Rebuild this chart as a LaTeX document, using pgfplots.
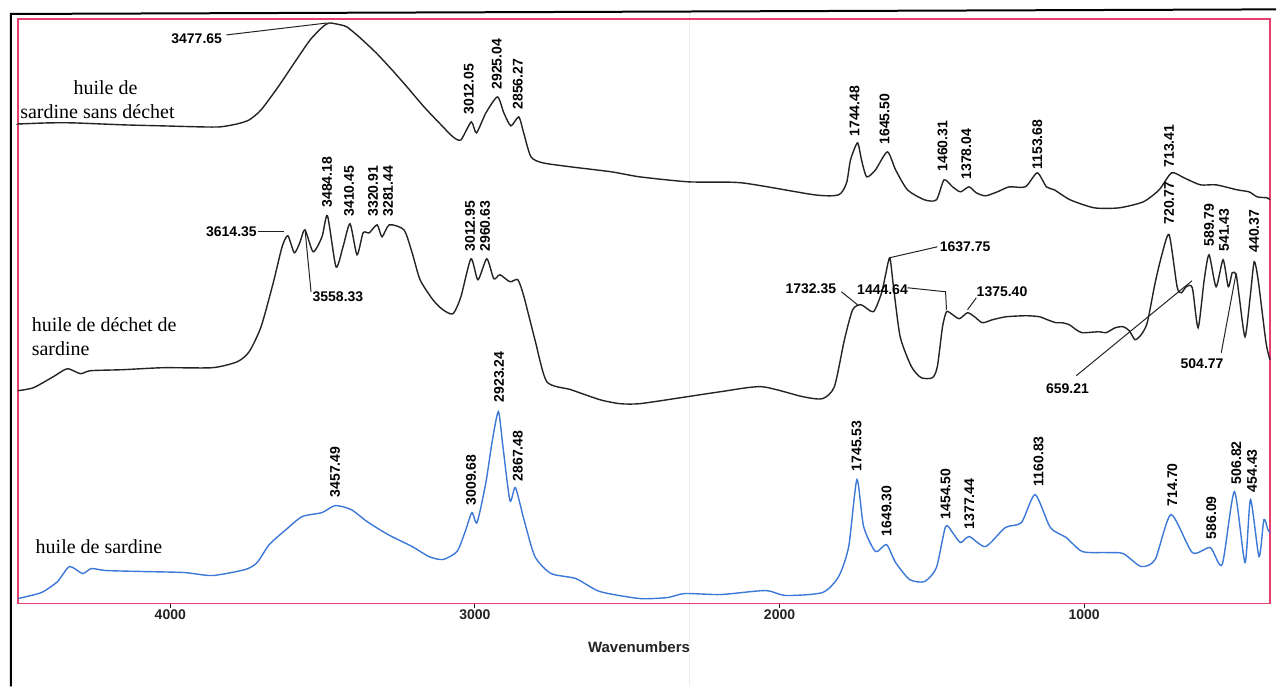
\documentclass[border=0pt]{standalone}
\usepackage{fontspec}
\setmainfont{Liberation Serif}
\setsansfont{Liberation Sans}
\usepackage{pgfplots}
\pgfplotsset{compat=1.18}
\definecolor{frame}{RGB}{232,62,110}
\definecolor{spec}{RGB}{60,120,215}
\definecolor{ink}{RGB}{35,35,35}
\newcommand{\lbl}{\sffamily\bfseries\fontsize{7}{8}\selectfont}
\newcommand{\nm}{\fontsize{10}{12}\selectfont}
\begin{document}
\begin{tikzpicture}
\draw[black!7, line width=0.8pt] (336pt,-41.5pt) -- (336pt,296pt);
\begin{axis}[
  scale only axis, width=626.5pt, height=292.5pt,
  x dir=reverse, xmin=390, xmax=4500, ymin=1, ymax=586,
  axis line style={draw=frame, line width=0.7pt},
  ytick=\empty,
  xtick={4000,3000,2000,1000}, xticklabels={4000,3000,2000,1000},
  xtick pos=left, tick align=outside, major tick length=2pt,
  tick style={draw=ink, line width=0.5pt},
  xticklabel style={font=\lbl, text=ink, inner sep=1pt},
  xlabel={Wavenumbers},
  xlabel style={font=\sffamily\bfseries\fontsize{7.5}{9}\selectfont, text=ink, at={(axis description cs:0.496,0)}, anchor=center, yshift=-21.75pt},
  clip=false,
  every node/.append style={text=ink},
]
% huile de sardine sans dechet
\addplot[ink, line width=0.7pt, smooth, tension=0.4] coordinates {
(4500,481)(4492,481)(4400,482)(4318,482)(4150,480)(4023,479)(3900,478)(3836,478)(3780,481)(3741,485)(3702,495)(3646,518)(3593,542)(3541,565)(3500,578)(3478,582)(3440,580)(3420,578)(3380,568)(3324,552)(3272,535)(3220,517)(3167,498)(3111,480)(3072,468)(3046,465)(3012,483)(2995,472)(2964,492)(2926,508)(2905,492)(2882,479)(2856,488)(2840,472)(2816,448)(2777,442)(2685,438)(2551,433)(2459,428)(2298,423)(2124,422)(1885,410)(1806,410)(1780,422)(1767,445)(1744,462)(1731,445)(1714,428)(1685,435)(1646,453)(1619,435)(1580,415)(1524,405)(1485,405)(1460,425)(1432,418)(1406,413)(1378,418)(1354,412)(1324,409)(1285,413)(1246,418)(1193,418)(1154,432)(1124,418)(1098,415)(1046,405)(967,397)(885,397)(806,403)(754,415)(713,432)(672,427)(619,420)(567,420)(498,415)(459,413)(432,408)(400,407)(390,405)
};
% huile de dechet de sardine
\addplot[ink, line width=0.7pt, smooth, tension=0.4] coordinates {
(4500,214)(4449,217)(4384,228)(4338,236)(4295,231)(4262,234)(4157,235)(4023,237)(3862,237)(3780,243)(3741,253)(3702,278)(3662,322)(3633,358)(3614,369)(3593,352)(3575,362)(3558,375)(3531,353)(3502,368)(3484,389)(3456,338)(3433,358)(3410,381)(3387,350)(3367,372)(3347,372)(3321,380)(3305,368)(3281,380)(3233,375)(3206,352)(3180,325)(3138,305)(3105,295)(3072,291)(3046,308)(3013,346)(2990,325)(2961,346)(2938,326)(2918,330)(2885,323)(2859,325)(2839,308)(2803,265)(2764,223)(2685,215)(2590,205)(2524,201)(2459,201)(2324,207)(2193,213)(2059,218)(1924,208)(1859,206)(1820,218)(1787,265)(1760,295)(1732,300)(1692,293)(1665,312)(1652,330)(1638,347)(1626,318)(1604,268)(1567,238)(1535,227)(1498,227)(1482,238)(1465,278)(1452,293)(1436,291)(1410,286)(1383,292)(1360,288)(1334,282)(1301,285)(1256,288)(1190,289)(1147,288)(1121,285)(1092,282)(1072,282)(1049,280)(1026,275)(1006,272)(951,273)(928,272)(898,277)(872,278)(852,274)(833,265)(813,270)(793,282)(767,322)(745,350)(721,370)(695,318)(681,312)(665,318)(645,317)(626,277)(606,325)(590,350)(567,318)(544,345)(527,318)(514,332)(501,330)(491,308)(472,268)(455,308)(442,343)(429,325)(403,262)(390,245)
};
% huile de sardine
\addplot[spec, line width=0.7pt, smooth, tension=0.4] coordinates {
(4500,6)(4423,12)(4370,23)(4331,38)(4288,31)(4259,36)(4210,34)(4088,33)(3954,32)(3862,29)(3754,35)(3715,42)(3675,60)(3620,75)(3567,88)(3502,92)(3459,99)(3406,95)(3354,83)(3285,70)(3206,58)(3151,48)(3105,45)(3059,53)(3033,72)(3010,92)(2993,82)(2964,122)(2944,162)(2923,193)(2908,158)(2885,104)(2867,117)(2839,85)(2803,48)(2750,31)(2669,26)(2590,13)(2459,6)(2367,7)(2311,11)(2193,10)(2046,14)(1980,9)(1859,12)(1806,28)(1773,58)(1746,125)(1724,78)(1685,53)(1649,60)(1619,42)(1573,25)(1524,23)(1485,37)(1455,78)(1432,72)(1406,62)(1377,68)(1324,58)(1259,77)(1206,82)(1161,110)(1111,77)(1059,67)(1006,53)(928,52)(872,51)(813,38)(767,45)(715,90)(645,52)(586,57)(547,40)(507,113)(472,42)(454,105)(426,48)(410,85)(397,75)(390,72)
};
% labels: top curve
\node[font=\lbl, anchor=east, inner sep=0pt] at (axis cs:3829,566) {3477.65};
\draw[ink, line width=0.5pt] (axis cs:3816,570) -- (axis cs:3485,582);
\node[font=\lbl, rotate=90, anchor=west, inner sep=0pt] at (axis cs:3020,490) {3012.05};
\node[font=\lbl, rotate=90, anchor=west, inner sep=0pt] at (axis cs:2928,515) {2925.04};
\node[font=\lbl, rotate=90, anchor=west, inner sep=0pt] at (axis cs:2859,495) {2856.27};
\node[font=\lbl, rotate=90, anchor=west, inner sep=0pt] at (axis cs:1754,468) {1744.48};
\node[font=\lbl, rotate=90, anchor=west, inner sep=0pt] at (axis cs:1655,460) {1645.50};
\node[font=\lbl, rotate=90, anchor=west, inner sep=0pt] at (axis cs:1465,433) {1460.31};
\node[font=\lbl, rotate=90, anchor=west, inner sep=0pt] at (axis cs:1387,425) {1378.04};
\node[font=\lbl, rotate=90, anchor=west, inner sep=0pt] at (axis cs:1154,435) {1153.68};
\node[font=\lbl, rotate=90, anchor=west, inner sep=0pt] at (axis cs:721,437) {713.41};
% labels: middle curve
\node[font=\lbl, anchor=east, inner sep=0pt] at (axis cs:3715,373) {3614.35};
\draw[ink, line width=0.5pt] (axis cs:3711,373) -- (axis cs:3626,373);
\node[font=\lbl, anchor=west, inner sep=0pt] at (axis cs:3534,308) {3558.33};
\draw[ink, line width=0.5pt] (axis cs:3557,373) -- (axis cs:3538,313);
\node[font=\lbl, rotate=90, anchor=west, inner sep=0pt] at (axis cs:3485,397) {3484.18};
\node[font=\lbl, rotate=90, anchor=west, inner sep=0pt] at (axis cs:3413,388) {3410.45};
\node[font=\lbl, rotate=90, anchor=west, inner sep=0pt] at (axis cs:3334,388) {3320.91};
\node[font=\lbl, rotate=90, anchor=west, inner sep=0pt] at (axis cs:3285,388) {3281.44};
\node[font=\lbl, rotate=90, anchor=west, inner sep=0pt] at (axis cs:3016,353) {3012.95};
\node[font=\lbl, rotate=90, anchor=west, inner sep=0pt] at (axis cs:2967,353) {2960.63};
\node[font=\lbl, anchor=east, inner sep=0pt] at (axis cs:1813,316) {1732.35};
\draw[ink, line width=0.5pt] (axis cs:1797,313) -- (axis cs:1744,300);
\node[font=\lbl, anchor=west, inner sep=0pt] at (axis cs:1475,358) {1637.75};
\draw[ink, line width=0.5pt] (axis cs:1639,347) -- (axis cs:1482,358);
\node[font=\lbl, anchor=center, inner sep=0pt] at (axis cs:1662,315) {1444.64};
\draw[ink, line width=0.5pt] (axis cs:1580,317) -- (axis cs:1455,313) -- (axis cs:1452,295);
\node[font=\lbl, anchor=west, inner sep=0pt] at (axis cs:1354,313) {1375.40};
\draw[ink, line width=0.5pt] (axis cs:1354,307) -- (axis cs:1383,295);
\node[font=\lbl, anchor=center, inner sep=0pt] at (axis cs:1055,216) {659.21};
\draw[ink, line width=0.5pt] (axis cs:1026,229) -- (axis cs:646,324);
\node[font=\lbl, anchor=center, inner sep=0pt] at (axis cs:613,241) {504.77};
\draw[ink, line width=0.5pt] (axis cs:550,252) -- (axis cs:501,332);
\node[font=\lbl, rotate=90, anchor=west, inner sep=0pt] at (axis cs:721,380) {720.77};
\node[font=\lbl, rotate=90, anchor=west, inner sep=0pt] at (axis cs:590,358) {589.79};
\node[font=\lbl, rotate=90, anchor=west, inner sep=0pt] at (axis cs:541,353) {541.43};
\node[font=\lbl, rotate=90, anchor=west, inner sep=0pt] at (axis cs:442,352) {440.37};
% labels: bottom curve
\node[font=\lbl, rotate=90, anchor=west, inner sep=0pt] at (axis cs:3459,107) {3457.49};
\node[font=\lbl, rotate=90, anchor=west, inner sep=0pt] at (axis cs:3013,99) {3009.68};
\node[font=\lbl, rotate=90, anchor=west, inner sep=0pt] at (axis cs:2921,202) {2923.24};
\node[font=\lbl, rotate=90, anchor=west, inner sep=0pt] at (axis cs:2859,123) {2867.48};
\node[font=\lbl, rotate=90, anchor=west, inner sep=0pt] at (axis cs:1747,133) {1745.53};
\node[font=\lbl, rotate=90, anchor=west, inner sep=0pt] at (axis cs:1649,68) {1649.30};
\node[font=\lbl, rotate=90, anchor=west, inner sep=0pt] at (axis cs:1455,85) {1454.50};
\node[font=\lbl, rotate=90, anchor=west, inner sep=0pt] at (axis cs:1377,75) {1377.44};
\node[font=\lbl, rotate=90, anchor=west, inner sep=0pt] at (axis cs:1150,118) {1160.83};
\node[font=\lbl, rotate=90, anchor=west, inner sep=0pt] at (axis cs:711,98) {714.70};
\node[font=\lbl, rotate=90, anchor=west, inner sep=0pt] at (axis cs:583,65) {586.09};
\node[font=\lbl, rotate=90, anchor=west, inner sep=0pt] at (axis cs:501,120) {506.82};
\node[font=\lbl, rotate=90, anchor=west, inner sep=0pt] at (axis cs:449,112) {454.43};
% curve names
\node[font=\nm, align=center, inner sep=0pt] at (axis cs:4239,505) {\hspace*{8pt}huile de\\sardine sans déchet};
\node[font=\nm, align=left, anchor=west, inner sep=0pt] at (axis cs:4456,268) {huile de déchet de\\sardine};
\node[font=\nm, anchor=west, inner sep=0pt] at (axis cs:4443,58) {huile de sardine};
\end{axis}
\draw[black, line width=1pt] (-3.5pt,-41.5pt) -- (-3.5pt,295pt) -- (629.5pt,297.3pt);
\path (-9pt,-41.5pt) rectangle (629.5pt,302pt);
\end{tikzpicture}
\end{document}
